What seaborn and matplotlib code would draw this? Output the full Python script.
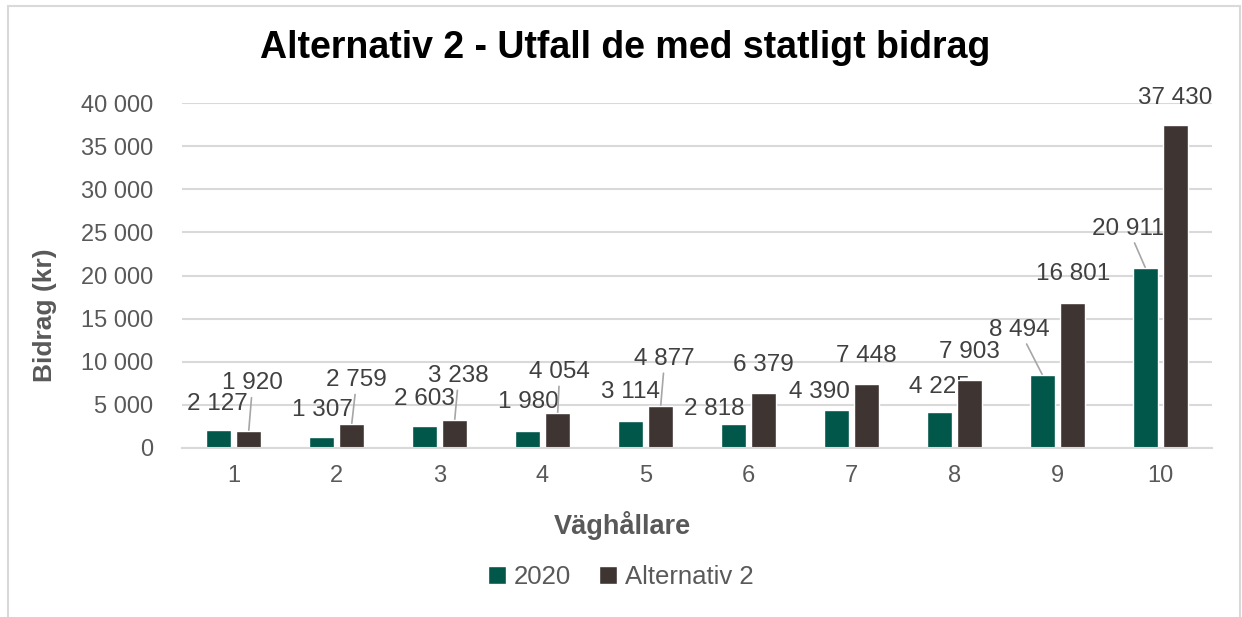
import matplotlib
matplotlib.use('Agg')
import matplotlib.pyplot as plt
import seaborn as sns
import pandas as pd
from matplotlib.ticker import FuncFormatter, MultipleLocator
from matplotlib.lines import Line2D

# ---------------- data ----------------
categories = ['1', '2', '3', '4', '5', '6', '7', '8', '9', '10']
series_names = ['2020', 'Alternativ 2']
values_2020 = [2127, 1307, 2603, 1980, 3114, 2818, 4390, 4225, 8494, 20911]
values_alt2 = [1920, 2759, 3238, 4054, 4877, 6379, 7448, 7903, 16801, 37430]

title_text = 'Alternativ 2 - Utfall de med statligt bidrag'
x_label = 'Väghållare'
y_label = 'Bidrag (kr)'

# ---------------- label placement (pixels from bar top) ----------------
label_offsets = {
    '2020': [(-1, 26), (1, 27), (0, 27), (1, 29), (0, 29), (-19, 15), (-17, 18), (0, 25), (-23, 45), (-17, 39)],
    'Alternativ 2': [(4, 48), (5, 44), (4, 44), (2, 41), (4, 47), (0, 28), (0, 28), (0, 28), (0, 29), (-1, 27)],
}
label_leaders = {
    '2020': [False] * 8 + [True, True],
    'Alternativ 2': [True] * 5 + [False] * 5,
}

colors = ['#00574A', '#3E3532']
text_gray = '#595959'
grid_gray = '#D9D9D9'

sns.set_theme(style='white')
plt.rcParams['font.family'] = ['Liberation Sans', 'DejaVu Sans']

df = pd.DataFrame({
    'cat': categories * 2,
    'val': values_2020 + values_alt2,
    'serie': [series_names[0]] * len(categories) + [series_names[1]] * len(categories),
})

fig = plt.figure(figsize=(12.42, 6.17), dpi=100)
ax = fig.add_axes([182 / 1242, 1 - 448 / 617, (1212 - 182) / 1242, (448 - 103) / 617])

sns.barplot(data=df, x='cat', y='val', hue='serie', hue_order=series_names,
            order=categories, palette=colors, width=0.59, gap=0.19,
            errorbar=None, saturation=1, ax=ax)

handles, labels = ax.get_legend_handles_labels()
if ax.get_legend() is not None:
    ax.get_legend().remove()

ax.set_ylim(0, 40000)
ax.set_xlim(-0.5, len(categories) - 0.5)
ax.yaxis.set_major_locator(MultipleLocator(5000))
fmt = lambda v: f"{int(round(v)):,}".replace(',', ' ')
ax.yaxis.set_major_formatter(FuncFormatter(lambda v, p: fmt(v)))
ax.set_axisbelow(True)
ax.grid(axis='y', color=grid_gray, linewidth=1.5)
ax.grid(axis='x', visible=False)
for s in ['left', 'right', 'top']:
    ax.spines[s].set_visible(False)
ax.spines['bottom'].set_color(grid_gray)
ax.spines['bottom'].set_linewidth(1.5)
ax.tick_params(axis='y', length=0, pad=21, labelsize=17, labelcolor=text_gray)
ax.tick_params(axis='x', length=0, pad=12, labelsize=17, labelcolor=text_gray)
ax.set_xlabel('')
ax.set_ylabel('')

# bars on top of labels
for cont in ax.containers:
    for r in cont:
        r.set_zorder(2)

for cont, name in zip(ax.containers, series_names):
    for i, r in enumerate(cont):
        cx = r.get_x() + r.get_width() / 2
        h = r.get_height()
        dx, dy = label_offsets[name][i]
        kw = {}
        if label_leaders[name][i]:
            kw['arrowprops'] = dict(arrowstyle='-', color='#A6A6A6', lw=1.2,
                                    shrinkA=0, shrinkB=0)
        ax.annotate(fmt(h), xy=(cx, h), xytext=(dx, dy), textcoords='offset pixels',
                    ha='center', va='center', fontsize=17.5, color='#404040',
                    zorder=1.5, annotation_clip=False, **kw)

fig.text(625 / 1242, 1 - 48 / 617, title_text, ha='center', va='center',
         fontsize=27, fontweight='bold', color='black')
fig.text(622 / 1242, 1 - 526 / 617, x_label, ha='center', va='center',
         fontsize=19.5, fontweight='bold', color=text_gray)
fig.text(45 / 1242, 1 - 315 / 617, y_label, ha='center', va='center', rotation=90,
         fontsize=19, fontweight='bold', color=text_gray)

fig.legend(handles, labels, loc='center', bbox_to_anchor=(621 / 1242, 1 - 577 / 617),
           ncol=2, frameon=False, fontsize=18.5, handlelength=0.7, handleheight=0.7,
           handletextpad=0.3, columnspacing=1.1, labelcolor=text_gray)

# chart border
bc = grid_gray
fig.add_artist(Line2D([8 / 1242, 8 / 1242], [0, 1 - 6 / 617], transform=fig.transFigure, color=bc, lw=1.5))
fig.add_artist(Line2D([8 / 1242, 1240 / 1242], [1 - 6 / 617, 1 - 6 / 617], transform=fig.transFigure, color=bc, lw=1.5))
fig.add_artist(Line2D([1240 / 1242, 1240 / 1242], [0, 1 - 6 / 617], transform=fig.transFigure, color=bc, lw=1.5))

fig.savefig('out.png', dpi=100)
